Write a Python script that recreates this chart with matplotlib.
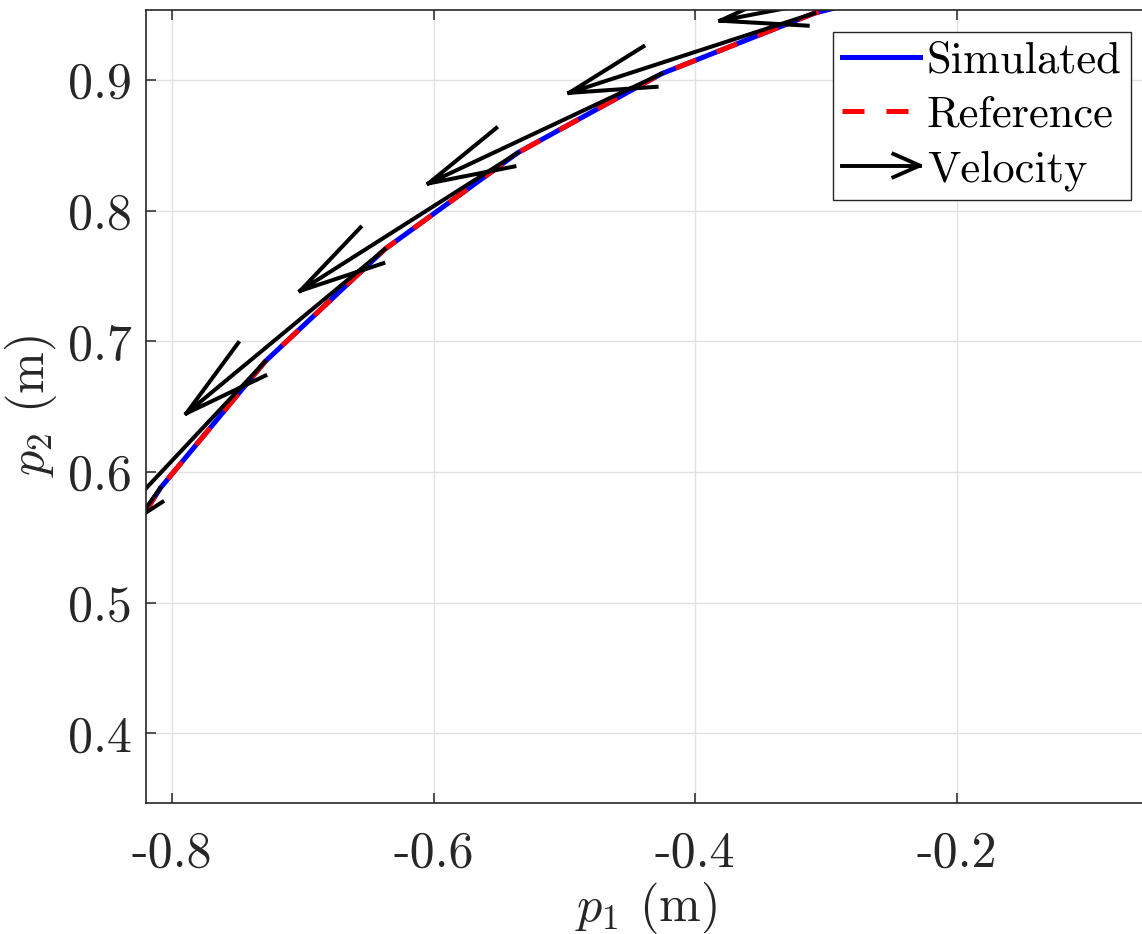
import numpy as np
import matplotlib
matplotlib.use("Agg")
import matplotlib.pyplot as plt
from matplotlib.lines import Line2D
from matplotlib.legend_handler import HandlerBase

# trajectory samples (m)
p1_sim = [-0.8763, -0.8090, -0.7290, -0.6374, -0.5358, -0.4258, -0.3090, -0.1874, -0.0628]
p2_sim = [0.4818, 0.5878, 0.6845, 0.7705, 0.8443, 0.9048, 0.9511, 0.9823, 0.9980]
p1_ref = [-0.8763, -0.8090, -0.7290, -0.6374, -0.5358, -0.4258, -0.3090, -0.1874, -0.0628]
p2_ref = [0.4818, 0.5878, 0.6845, 0.7705, 0.8443, 0.9048, 0.9511, 0.9823, 0.9980]

# velocity arrows as drawn (data units)
vel_u = [-0.0949, -0.1158, -0.1348, -0.1518, -0.1663, -0.1782, -0.1874, -0.1935, -0.1966]
vel_v = [-0.1726, -0.1594, -0.1436, -0.1256, -0.1056, -0.0839, -0.0609, -0.0369, -0.0124]

xticks = [-0.8, -0.6, -0.4, -0.2]
xticklabels = ['-0.8', '-0.6', '-0.4', '-0.2']
yticks = [0.4, 0.5, 0.6, 0.7, 0.8, 0.9]
yticklabels = ['0.4', '0.5', '0.6', '0.7', '0.8', '0.9']

plt.rcParams['font.family'] = ['cmr10', 'DejaVu Serif']
plt.rcParams['mathtext.fontset'] = 'cm'
plt.rcParams['axes.formatter.use_mathtext'] = True
plt.rcParams['axes.unicode_minus'] = False

dark = '#262626'


def quiver_lines(x, y, u, v, alpha=0.33, beta=0.25):
    # matlab style open arrow heads
    xs, ys = [], []
    for xi, yi, ui, vi in zip(x, y, u, v):
        tx, ty = xi + ui, yi + vi
        xs += [xi, tx, np.nan]
        ys += [yi, ty, np.nan]
        xs += [tx - alpha * (ui + beta * vi), tx, tx - alpha * (ui - beta * vi), np.nan]
        ys += [ty - alpha * (vi - beta * ui), ty, ty - alpha * (vi + beta * ui), np.nan]
    return xs, ys


class ArrowHandler(HandlerBase):
    def create_artists(self, legend, orig_handle, xdescent, ydescent,
                       width, height, fontsize, trans):
        y = height / 2 - ydescent
        x0, x1 = -xdescent, width - xdescent
        hl, hw = 0.34 * width, 0.15 * width
        shaft = Line2D([x0, x1], [y, y], color='k', lw=2.8)
        head = Line2D([x1 - hl, x1, x1 - hl], [y + hw, y, y - hw], color='k', lw=2.8,
                      solid_joinstyle='round')
        shaft.set_transform(trans)
        head.set_transform(trans)
        return [shaft, head]


fig = plt.figure(figsize=(11.42, 9.34), dpi=100)
ax = fig.add_axes([146 / 1142, 1 - 803 / 934, (1145 - 146) / 1142, (803 - 10) / 934])

sim, = ax.plot(p1_sim, p2_sim, color=(0, 0, 1), lw=3.6, label='Simulated')
ref, = ax.plot(p1_ref, p2_ref, color=(1, 0, 0), lw=3.6, linestyle=(0, (4.4, 4.4)),
               label='Reference')
qx, qy = quiver_lines(p1_sim, p2_sim, vel_u, vel_v)
vel, = ax.plot(qx, qy, color='k', lw=2.9, solid_joinstyle='round', label='Velocity')

ax.set_xlim(-0.82, -0.056)
ax.set_ylim(0.3468, 0.9536)
ax.set_xticks(xticks)
ax.set_xticklabels(xticklabels)
ax.set_yticks(yticks)
ax.set_yticklabels(yticklabels)

ax.grid(True, color='#e1e1e1', lw=1.0)
ax.set_axisbelow(True)
for s in ax.spines.values():
    s.set_color(dark)
    s.set_linewidth(1.2)
ax.tick_params(direction='in', length=7, width=1.1, colors=dark, top=True, right=False,
               labelsize=36)
ax.tick_params(axis='x', pad=20)
ax.tick_params(axis='y', pad=10)

ax.set_xlabel(r'$p_1$ (m)', fontsize=36, color=dark, va='center')
ax.set_ylabel(r'$p_2$ (m)', fontsize=36, color=dark, va='center')
ax.xaxis.set_label_coords(0.5, -0.132)
ax.yaxis.set_label_coords(-0.1151, 0.5)

leg = ax.legend(handles=[sim, ref, vel], handler_map={vel: ArrowHandler()},
                loc='upper right', bbox_to_anchor=(1131 / 1142, 1 - 32 / 934),
                bbox_transform=fig.transFigure, fontsize=32, fancybox=False,
                framealpha=1, edgecolor=dark, borderpad=0.21, labelspacing=0.32,
                handlelength=1.75, handletextpad=0.16, borderaxespad=0)
leg.get_frame().set_linewidth(1.0)

fig.savefig('out.png', dpi=100)
